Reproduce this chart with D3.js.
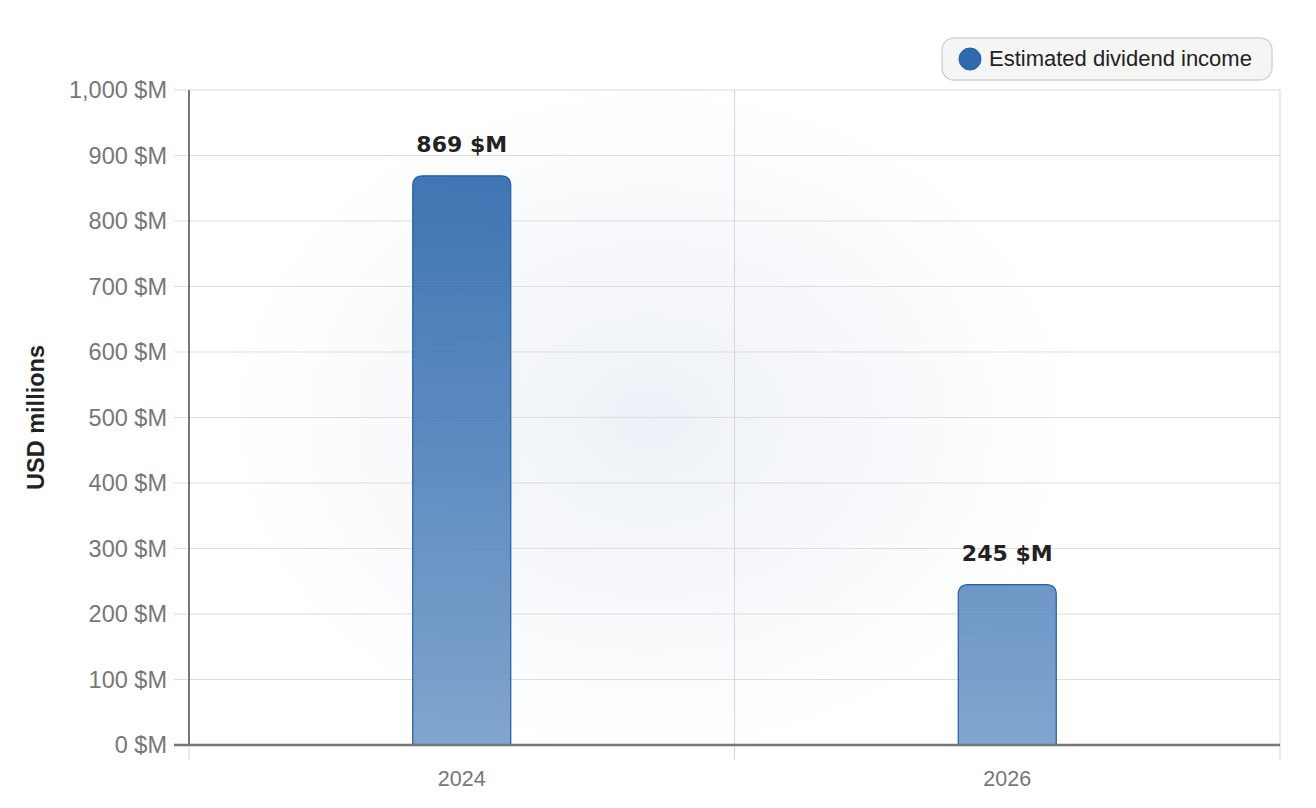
<!DOCTYPE html>
<html>
<head>
<meta charset="utf-8">
<script src="https://cdn.jsdelivr.net/npm/d3@7"></script>
<style>
  body { margin: 0; background: #fff; }
  svg { display: block; }
</style>
</head>
<body>
<div id="chart"></div>
<script>
const years = ["2024", "2026"];
const dividends = [869, 245];
const yTicks = [0, 100, 200, 300, 400, 500, 600, 700, 800, 900, 1000];
const seriesName = "Estimated dividend income";

const width = 1316;
const height = 808;
const margin = { top: 90, left: 189, bottom: 63, right: 36 };
const iwidth = width - margin.left - margin.right;
const iheight = height - margin.top - margin.bottom;

const svg = d3.select("#chart").append("svg")
  .attr("width", width)
  .attr("height", height);

const defs = svg.append("defs");

// faint radial wash behind the plot
const bg = defs.append("radialGradient").attr("id", "bgWash")
  .attr("cx", 0.5).attr("cy", 0.5).attr("r", 0.5);
bg.append("stop").attr("offset", "0%").attr("stop-color", "#edf1f7");
bg.append("stop").attr("offset", "100%").attr("stop-color", "#ffffff");

const barGrad = defs.append("linearGradient").attr("id", "barGrad")
  .attr("gradientUnits", "userSpaceOnUse")
  .attr("x1", 0).attr("y1", 0).attr("x2", 0).attr("y2", iheight);
barGrad.append("stop").attr("offset", "0%").attr("stop-color", "#1a5ba4");
barGrad.append("stop").attr("offset", "100%").attr("stop-color", "#6f98c8");

svg.append("ellipse")
  .attr("cx", 650).attr("cy", 420)
  .attr("rx", 430).attr("ry", 340)
  .attr("fill", "url(#bgWash)");

const g = svg.append("g").attr("transform", `translate(${margin.left},${margin.top})`);

const y = d3.scaleLinear().domain([0, 1000]).range([iheight, 0]);
const x = d3.scaleBand().domain(years).range([0, iwidth]);

const labelFont = "Liberation Sans, Arial, sans-serif";

// horizontal grid
g.append("g")
  .selectAll("line").data(yTicks).enter().append("line")
  .attr("x1", -15).attr("x2", iwidth)
  .attr("y1", d => y(d)).attr("y2", d => y(d))
  .attr("stroke", "#dddddd").attr("stroke-width", 1);

// vertical grid at category boundaries
const bounds = years.map(d => x(d)).concat([iwidth]);
g.append("g")
  .selectAll("line").data(bounds).enter().append("line")
  .attr("x1", d => d).attr("x2", d => d)
  .attr("y1", 0).attr("y2", iheight + 15)
  .attr("stroke", "#d6d6da").attr("stroke-width", 1);

// bars with rounded tops
const bw = 98;
const r = 10;
function barPath(d, i) {
  const x0 = x(years[i]) + x.bandwidth() / 2 - bw / 2;
  const x1 = x0 + bw;
  const y0 = y(d);
  const yb = y(0);
  return `M${x0},${yb}V${y0 + r}Q${x0},${y0} ${x0 + r},${y0}H${x1 - r}Q${x1},${y0} ${x1},${y0 + r}V${yb}Z`;
}
g.append("g")
  .selectAll("path").data(dividends).enter().append("path")
  .attr("d", barPath)
  .attr("fill", "url(#barGrad)")
  .attr("fill-opacity", 0.88)
  .attr("stroke", "#1f5fa6")
  .attr("stroke-width", 1.2);

// value labels
g.append("g")
  .selectAll("text").data(dividends).enter().append("text")
  .attr("x", (d, i) => x(years[i]) + x.bandwidth() / 2)
  .attr("y", d => y(d) - 24)
  .attr("text-anchor", "middle")
  .attr("font-family", "DejaVu Sans")
  .attr("font-weight", "bold")
  .attr("font-size", 22)
  .attr("fill", "#222")
  .text(d => d3.format(",")(d) + " $M");

// y axis
const yAxis = g.append("g")
  .call(d3.axisLeft(y).tickValues(yTicks).tickSize(0).tickPadding(22)
    .tickFormat(d => d3.format(",")(d) + " $M"));
yAxis.select(".domain").remove();
yAxis.selectAll("text")
  .attr("font-family", labelFont)
  .attr("font-size", 23.5)
  .attr("fill", "#777");

g.append("line")
  .attr("x1", 0).attr("x2", 0).attr("y1", 0).attr("y2", iheight)
  .attr("stroke", "#777").attr("stroke-width", 2);

// x axis
const xAxis = g.append("g")
  .attr("transform", `translate(0,${iheight})`)
  .call(d3.axisBottom(x).tickSize(0).tickPadding(26));
xAxis.select(".domain").remove();
xAxis.selectAll("text")
  .attr("font-family", labelFont)
  .attr("font-size", 21.5)
  .attr("fill", "#777");

g.append("line")
  .attr("x1", -15).attr("x2", iwidth).attr("y1", iheight).attr("y2", iheight)
  .attr("stroke", "#777").attr("stroke-width", 2.5);

// y axis title
svg.append("text")
  .attr("transform", `translate(44,${margin.top + iheight / 2}) rotate(-90)`)
  .attr("text-anchor", "middle")
  .attr("font-family", labelFont)
  .attr("font-weight", "bold")
  .attr("font-size", 23.5)
  .attr("fill", "#222")
  .text("USD millions");

// legend
const lg = svg.append("g").attr("transform", "translate(942,38)");
lg.append("rect")
  .attr("width", 330).attr("height", 42)
  .attr("rx", 12)
  .attr("fill", "#f5f5f4").attr("stroke", "#d4d4d4").attr("stroke-width", 1.5);
lg.append("circle")
  .attr("cx", 28).attr("cy", 21).attr("r", 11)
  .attr("fill", "#2e6aad").attr("stroke", "#1f5fa6");
lg.append("text")
  .attr("x", 47).attr("y", 28)
  .attr("font-family", labelFont)
  .attr("font-size", 22)
  .attr("fill", "#222")
  .text(seriesName);
</script>
</body>
</html>
